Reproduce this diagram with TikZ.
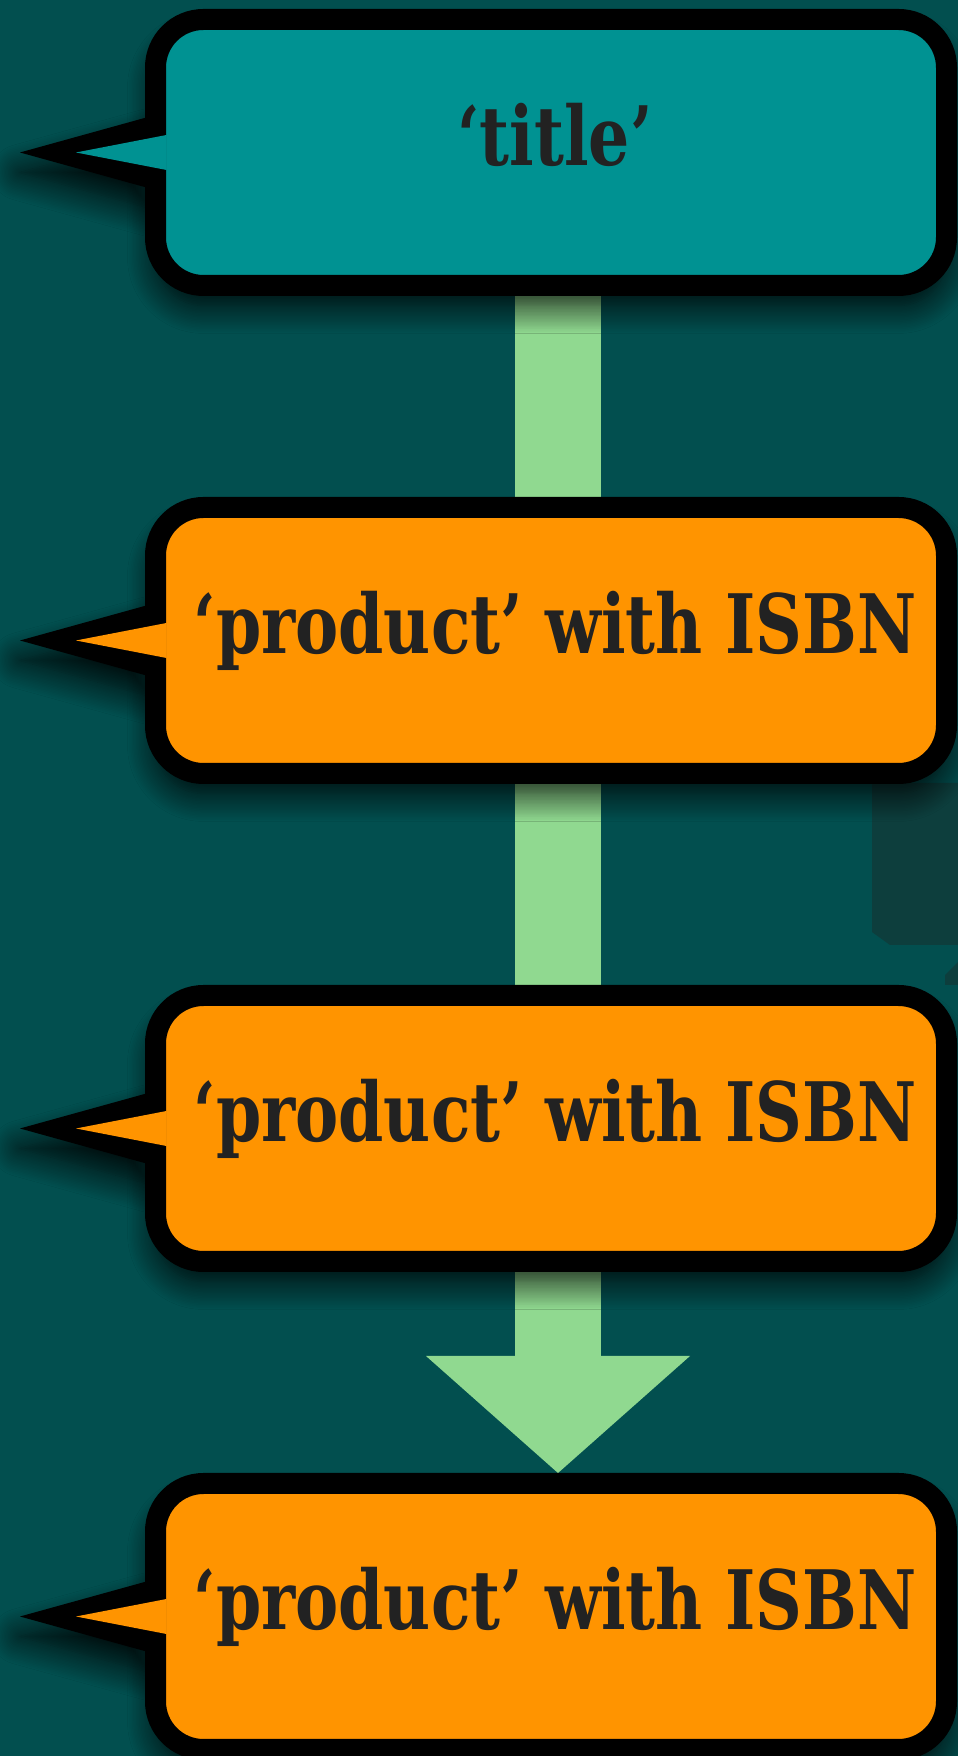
\documentclass[tikz,border=0pt]{standalone}
\usepackage{fontspec}
\setmainfont{DejaVu Serif}
\usetikzlibrary{positioning,arrows.meta,shadows.blur}

\definecolor{bgteal}{RGB}{2,79,79}
\definecolor{boxteal}{RGB}{0,146,146}
\definecolor{boxorange}{RGB}{255,148,0}
\definecolor{flowgreen}{RGB}{144,217,144}
\definecolor{inkgray}{RGB}{34,34,34}
\definecolor{patchteal}{RGB}{13,62,61}
\newcommand{\squeeze}[1]{\hspace*{8pt}\scalebox{0.79}[1]{#1}}

\pgfdeclarelayer{back}
\pgfsetlayers{back,main}

\begin{document}
\begin{tikzpicture}[x=1pt,y=1pt,
    callout/.style={draw=black,line width=21pt,rounded corners=48pt,
      minimum width=791pt,minimum height=266pt,inner sep=0pt,
      text=inkgray,font=\fontsize{82}{82}\selectfont\bfseries,
      text height=26pt,text depth=0pt,softshadow},
    softshadow/.style={blur shadow={shadow xshift=0pt,shadow yshift=-20pt,
      shadow blur radius=28pt,shadow blur steps=20,shadow opacity=90}},
    flow/.style={draw=flowgreen,line width=86pt}]
\useasboundingbox (0,0) rectangle (958,1756);
\node[callout,fill=boxteal] (title) at (551,1603.5) {\squeeze{‘title’}};
\node[callout,fill=boxorange,below=201pt of title] (prod1) {\squeeze{‘product’ with ISBN}};
\node[callout,fill=boxorange,below=201pt of prod1] (prod2) {\squeeze{‘product’ with ISBN}};
\node[callout,fill=boxorange,below=201pt of prod2] (prod3) {\squeeze{‘product’ with ISBN}};
\coordinate (ax) at (558,0);

\begin{pgfonlayer}{back}
  \fill[bgteal] (0,0) rectangle (958,1756);
  \fill[patchteal] (872,973) -- (958,973) -- (958,811) -- (890,811) -- (872,824) -- cycle;
  \fill[patchteal] (945,771) -- (945,781) -- (958,794) -- (958,771) -- cycle;
  \draw[flow] (title.south -| ax) -- (prod1.north -| ax);
  \draw[flow] (prod1.south -| ax) -- (prod2.north -| ax);
  \draw[flow,-{Triangle[length=117pt,width=264pt,line width=0pt]}]
    (prod2.south -| ax) -- (prod3.north -| ax);
  % pointers, outer part
  \foreach \n in {title,prod1,prod2,prod3}
    \fill[black,softshadow] (\n.west) ++(5,36) -- ++(-130,-36) -- ++(130,-36) -- cycle;
\end{pgfonlayer}
% pointers, inner part
\foreach \n/\c in {title/boxteal,prod1/boxorange,prod2/boxorange,prod3/boxorange}
  \fill[\c] (\n.west) ++(21.5,17.5) -- ++(-90.5,-17.5) -- ++(90.5,-17.5) -- cycle;
\end{tikzpicture}
\end{document}
